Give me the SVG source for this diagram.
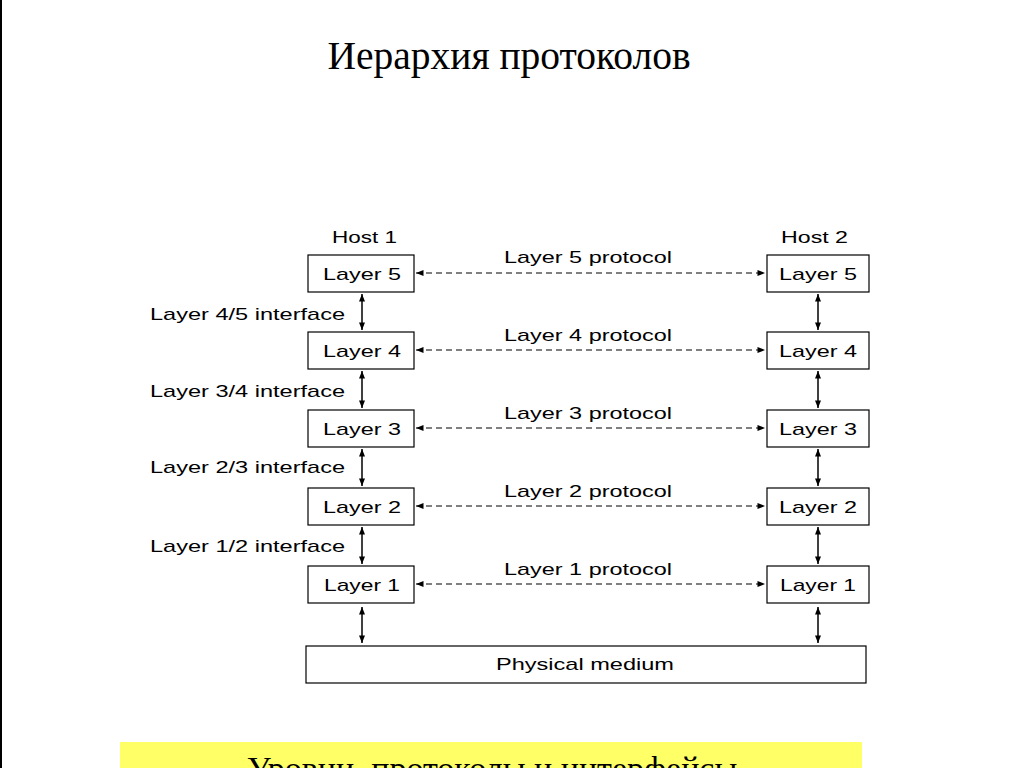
<svg xmlns="http://www.w3.org/2000/svg" width="1024" height="768" viewBox="0 0 1024 768">
<defs>
<style>
.box{fill:#fff;stroke:#000;stroke-width:1.2}
.lbl{font-family:"Liberation Sans",Arial,sans-serif;font-size:17px;fill:#000}
.c{text-anchor:middle}
.dash{stroke:#000;stroke-width:1;stroke-dasharray:6,4;fill:none}
.v{stroke:#000;stroke-width:1.5;fill:none}
.title{font-family:"Liberation Serif","Times New Roman",serif;font-size:39.5px;fill:#000;text-anchor:middle}
</style>
<marker id="ah" viewBox="0 0 10 8" refX="10" refY="4" markerWidth="9" markerHeight="6" markerUnits="userSpaceOnUse" orient="auto-start-reverse">
<path d="M0,0 L10,4 L0,8 z" fill="#000"/>
</marker>
</defs>
<rect x="0" y="0" width="1024" height="768" fill="#fff"/>
<line x1="1" y1="0" x2="1" y2="768" stroke="#000" stroke-width="2"/>
<text class="title" x="509" y="69">Иерархия протоколов</text>

<g id="labels">
<text class="lbl" x="332" y="243" textLength="65" lengthAdjust="spacingAndGlyphs">Host 1</text>
<text class="lbl" x="781" y="243" textLength="67" lengthAdjust="spacingAndGlyphs">Host 2</text>
<text class="lbl" x="150" y="320" textLength="195" lengthAdjust="spacingAndGlyphs">Layer 4/5 interface</text>
<text class="lbl" x="150" y="397" textLength="195" lengthAdjust="spacingAndGlyphs">Layer 3/4 interface</text>
<text class="lbl" x="150" y="473" textLength="195" lengthAdjust="spacingAndGlyphs">Layer 2/3 interface</text>
<text class="lbl" x="150" y="552" textLength="195" lengthAdjust="spacingAndGlyphs">Layer 1/2 interface</text>
<text class="lbl" x="504" y="263" textLength="168" lengthAdjust="spacingAndGlyphs">Layer 5 protocol</text>
<text class="lbl" x="504" y="341" textLength="168" lengthAdjust="spacingAndGlyphs">Layer 4 protocol</text>
<text class="lbl" x="504" y="419" textLength="168" lengthAdjust="spacingAndGlyphs">Layer 3 protocol</text>
<text class="lbl" x="504" y="497" textLength="168" lengthAdjust="spacingAndGlyphs">Layer 2 protocol</text>
<text class="lbl" x="504" y="575" textLength="168" lengthAdjust="spacingAndGlyphs">Layer 1 protocol</text>
</g>

<g id="h1l5"><rect class="box" x="308" y="255" width="106" height="37"/><text class="lbl" x="323" y="280" textLength="78" lengthAdjust="spacingAndGlyphs">Layer 5</text></g>
<g id="h1l4"><rect class="box" x="308" y="332" width="106" height="37"/><text class="lbl" x="323" y="357" textLength="78" lengthAdjust="spacingAndGlyphs">Layer 4</text></g>
<g id="h1l3"><rect class="box" x="308" y="410" width="106" height="37"/><text class="lbl" x="323" y="435" textLength="78" lengthAdjust="spacingAndGlyphs">Layer 3</text></g>
<g id="h1l2"><rect class="box" x="308" y="488" width="106" height="37"/><text class="lbl" x="323" y="513" textLength="78" lengthAdjust="spacingAndGlyphs">Layer 2</text></g>
<g id="h1l1"><rect class="box" x="308" y="566" width="106" height="37"/><text class="lbl" x="324" y="591" textLength="76" lengthAdjust="spacingAndGlyphs">Layer 1</text></g>

<g id="h2l5"><rect class="box" x="767" y="255" width="102" height="37"/><text class="lbl" x="779" y="280" textLength="78" lengthAdjust="spacingAndGlyphs">Layer 5</text></g>
<g id="h2l4"><rect class="box" x="767" y="332" width="102" height="37"/><text class="lbl" x="779" y="357" textLength="78" lengthAdjust="spacingAndGlyphs">Layer 4</text></g>
<g id="h2l3"><rect class="box" x="767" y="410" width="102" height="37"/><text class="lbl" x="779" y="435" textLength="78" lengthAdjust="spacingAndGlyphs">Layer 3</text></g>
<g id="h2l2"><rect class="box" x="767" y="488" width="102" height="37"/><text class="lbl" x="779" y="513" textLength="78" lengthAdjust="spacingAndGlyphs">Layer 2</text></g>
<g id="h2l1"><rect class="box" x="767" y="566" width="102" height="37"/><text class="lbl" x="780" y="591" textLength="76" lengthAdjust="spacingAndGlyphs">Layer 1</text></g>

<g id="phys"><rect class="box" x="306" y="646" width="560" height="37"/><text class="lbl" x="496" y="670" textLength="178" lengthAdjust="spacingAndGlyphs">Physical medium</text></g>

<g id="connectors">
<line class="dash" x1="416" y1="273" x2="765" y2="273" marker-start="url(#ah)" marker-end="url(#ah)"/>
<line class="dash" x1="416" y1="350" x2="765" y2="350" marker-start="url(#ah)" marker-end="url(#ah)"/>
<line class="dash" x1="416" y1="428" x2="765" y2="428" marker-start="url(#ah)" marker-end="url(#ah)"/>
<line class="dash" x1="416" y1="506" x2="765" y2="506" marker-start="url(#ah)" marker-end="url(#ah)"/>
<line class="dash" x1="416" y1="584" x2="765" y2="584" marker-start="url(#ah)" marker-end="url(#ah)"/>

<line class="v" x1="362" y1="294" x2="362" y2="330" marker-start="url(#ah)" marker-end="url(#ah)"/>
<line class="v" x1="362" y1="371" x2="362" y2="408" marker-start="url(#ah)" marker-end="url(#ah)"/>
<line class="v" x1="362" y1="449" x2="362" y2="486" marker-start="url(#ah)" marker-end="url(#ah)"/>
<line class="v" x1="362" y1="527" x2="362" y2="564" marker-start="url(#ah)" marker-end="url(#ah)"/>
<line class="v" x1="362" y1="607" x2="362" y2="643" marker-start="url(#ah)" marker-end="url(#ah)"/>

<line class="v" x1="818" y1="294" x2="818" y2="330" marker-start="url(#ah)" marker-end="url(#ah)"/>
<line class="v" x1="818" y1="371" x2="818" y2="408" marker-start="url(#ah)" marker-end="url(#ah)"/>
<line class="v" x1="818" y1="449" x2="818" y2="486" marker-start="url(#ah)" marker-end="url(#ah)"/>
<line class="v" x1="818" y1="527" x2="818" y2="564" marker-start="url(#ah)" marker-end="url(#ah)"/>
<line class="v" x1="818" y1="607" x2="818" y2="643" marker-start="url(#ah)" marker-end="url(#ah)"/>
</g>

<g id="caption">
<rect x="120" y="742" width="742" height="30" fill="#ffff66"/>
<text x="492" y="780" style="font-family:'Liberation Serif','Times New Roman',serif;font-size:34px;fill:#000;text-anchor:middle">Уровни, протоколы и интерфейсы</text>
</g>
</svg>
